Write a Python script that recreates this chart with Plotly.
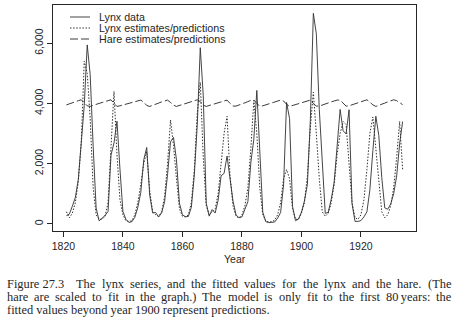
import plotly.graph_objects as go

years = list(range(1821, 1935))

lynx_data = [269, 321, 585, 871, 1475, 2821, 3928, 5943, 4950, 2577,
             523, 98, 184, 279, 409, 2285, 2685, 3409, 1824, 409,
             151, 45, 68, 213, 546, 1033, 2129, 2536, 957, 361,
             377, 225, 360, 731, 1638, 2725, 2871, 2119, 684, 299,
             236, 245, 552, 1623, 3311, 5850, 4254, 687, 255, 473,
             358, 784, 1594, 1676, 2251, 1426, 756, 299, 201, 229,
             469, 736, 2042, 2811, 4431, 2511, 389, 73, 39, 49,
             59, 188, 377, 1292, 4031, 3495, 587, 105, 153, 387,
             758, 1307, 3465, 6991, 6313, 3794, 1836, 345, 382, 808,
             1388, 2713, 3800, 3091, 2985, 3790, 674, 81, 80, 108,
             229, 399, 1132, 2432, 3574, 2935, 1537, 529, 485, 662,
             1000, 1590, 2657, 3396]

lynx_fit = [400, 200, 350, 700, 1400, 2700, 5400, 5000, 3500, 1200,
            300, 150, 150, 250, 700, 2600, 4400, 2300, 800, 300,
            100, 80, 100, 300, 700, 1300, 2000, 2400, 1100, 400,
            300, 250, 400, 900, 2000, 3450, 2600, 1500, 500, 250,
            230, 300, 700, 1800, 3700, 4700, 2200, 600, 300, 400,
            500, 1000, 1900, 3000, 3570, 1600, 600, 250, 200, 300,
            600, 1200, 2500, 4100, 3000, 1200, 300, 100, 60, 70,
            120, 300, 700, 1500, 1800, 1500, 500, 150, 150, 350,
            700, 1600, 3200, 4370, 3000, 1500, 400, 250, 350, 700,
            1300, 2300, 3000, 3400, 3300, 2000, 700, 200, 150, 300,
            800, 1800, 3000, 3550, 2500, 1200, 400, 200, 300, 600,
            1200, 2200, 3400, 1800]

hare_fit = [3950, 3990, 4030, 4060, 4090, 4120, 4020, 3920, 3900, 3940,
            3970, 4000, 4030, 4060, 4090, 4120, 4000, 3900, 3920, 3950,
            3980, 4000, 4030, 4060, 4090, 4110, 4040, 3930, 3900, 3930,
            3970, 4010, 4050, 4090, 4110, 4030, 3940, 3900, 3930, 3960,
            3990, 4020, 4050, 4080, 4120, 4060, 3940, 3900, 3930, 3960,
            3990, 4020, 4060, 4090, 4110, 4000, 3910, 3910, 3940, 3980,
            4020, 4060, 4100, 4110, 3990, 3900, 3920, 3950, 3990, 4020,
            4050, 4080, 4110, 4080, 3970, 3900, 3930, 3970, 4000, 4040,
            4070, 4100, 4110, 4000, 3910, 3910, 3950, 3990, 4020, 4050,
            4080, 4110, 4110, 4000, 3910, 3920, 3950, 3990, 4030, 4060,
            4090, 4120, 4040, 3950, 3900, 3930, 3970, 4010, 4050, 4090,
            4120, 4090, 4020, 3960]

series_names = ["Lynx data", "Lynx estimates/predictions", "Hare estimates/predictions"]
x_ticks = [1820, 1840, 1860, 1880, 1900, 1920]
y_ticks = [0, 2000, 4000, 6000]
y_tick_labels = ["0", "2,000", "4,000", "6,000"]
x_title = "Year"
caption_line1 = ["Figure 27.3", "The", "lynx", "series,", "and", "the", "fitted", "values",
                 "for", "the", "lynx", "and", "the", "hare.", "(The"]
caption_line2 = ["hare", "are", "scaled", "to", "fit", "in", "the", "graph.)", "The", "model",
                 "is", "only", "fit", "to", "the", "first", "80\u2009years:", "the"]
caption_line3 = "fitted values beyond year 1900 represent predictions."

INK = "#262626"
LINE_INK = "#303030"
SANS = "Liberation Sans, Arial, sans-serif"
SERIF = "Liberation Serif, Times New Roman, serif"
dashes = ["solid", "1.5px,1.6px", "8px,3px"]
widths = [0.9, 1.0, 0.95]

# plot area in pixels
L, R, T, B = 53, 416, 5, 231
W, H = 455, 325
pw, ph = R - L, B - T

def px_x(p):
    return (p - L) / pw

def px_y(p):
    return (B - p) / ph

# Times (Liberation Serif) advance widths, per 1000 em
TW = dict(zip("abcdefghijklmnopqrstuvwxyz",
              [444, 500, 444, 500, 444, 333, 500, 500, 278, 278, 500, 278, 778,
               500, 500, 500, 500, 333, 389, 278, 500, 500, 722, 500, 500, 444]))
TW.update({"F": 556, "T": 611, " ": 250, ".": 250, ",": 250, "(": 333, ")": 333,
           ":": 278, "\u2009": 167})
TW.update({d: 500 for d in "0123456789"})

CAP_FS = 12.4

def text_w(s, fs=CAP_FS):
    return sum(TW.get(c, 500) for c in s) * fs / 1000.0

fig = go.Figure()
for name, vals, dash, w in zip(series_names, [lynx_data, lynx_fit, hare_fit], dashes, widths):
    fig.add_trace(go.Scatter(x=years, y=vals, mode="lines", name=name,
                             line=dict(color=LINE_INK, width=w, dash=dash),
                             showlegend=False))

# manual legend
leg_rows = [17, 28, 39]
for name, dash, w, ry in zip(series_names, dashes, widths, leg_rows):
    fig.add_shape(type="line", xref="paper", yref="paper",
                  x0=px_x(70), x1=px_x(90), y0=px_y(ry), y1=px_y(ry),
                  line=dict(color=LINE_INK, width=w, dash=dash))
    fig.add_annotation(text=name, xref="paper", yref="paper",
                       x=px_x(97), y=px_y(ry), xanchor="left", yanchor="middle",
                       showarrow=False, font=dict(family=SANS, size=10.7, color=INK))

fig.add_annotation(text=x_title, xref="paper", yref="paper",
                   x=px_x(234.5), y=px_y(259), xanchor="center", yanchor="middle",
                   showarrow=False, font=dict(family=SANS, size=10.5, color=INK))

def place_justified(words, x0, x1, cy, fixed_first_gap=None):
    ws = [text_w(w) for w in words]
    ngaps = len(words) - 1
    free = (x1 - x0) - sum(ws)
    if fixed_first_gap is not None:
        gaps = [fixed_first_gap] + [(free - fixed_first_gap) / (ngaps - 1)] * (ngaps - 1)
    else:
        gaps = [free / ngaps] * ngaps
    x = x0
    for i, (word, wdt) in enumerate(zip(words, ws)):
        fig.add_annotation(text=word, xref="paper", yref="paper",
                           x=px_x(x), y=px_y(cy), xanchor="left", yanchor="middle",
                           showarrow=False, font=dict(family=SERIF, size=CAP_FS, color=INK))
        if i < ngaps:
            x += wdt + gaps[i]

place_justified(caption_line1, 5, 449, 284, fixed_first_gap=12)
place_justified(caption_line2, 5, 449, 297)
fig.add_annotation(text=caption_line3, xref="paper", yref="paper",
                   x=px_x(5), y=px_y(310), xanchor="left", yanchor="middle",
                   showarrow=False, font=dict(family=SERIF, size=CAP_FS, color=INK))

fig.update_xaxes(range=[1816.5, 1938.5], tickvals=x_ticks,
                 ticks="outside", ticklen=5, tickcolor=INK, tickwidth=1,
                 showline=True, mirror=True, linecolor=INK, linewidth=1,
                 showgrid=False, zeroline=False,
                 tickfont=dict(family=SANS, size=10.5, color=INK))
fig.update_yaxes(range=[-239, 7269], tickvals=y_ticks, ticktext=y_tick_labels,
                 tickangle=-90,
                 ticks="outside", ticklen=5, tickcolor=INK, tickwidth=1,
                 showline=True, mirror=True, linecolor=INK, linewidth=1,
                 showgrid=False, zeroline=False,
                 tickfont=dict(family=SANS, size=10.5, color=INK))

fig.update_layout(width=W, height=H,
                  margin=dict(l=L, r=W - R, t=T, b=H - B),
                  paper_bgcolor="white", plot_bgcolor="white",
                  showlegend=False)

fig.write_html("out.html")
